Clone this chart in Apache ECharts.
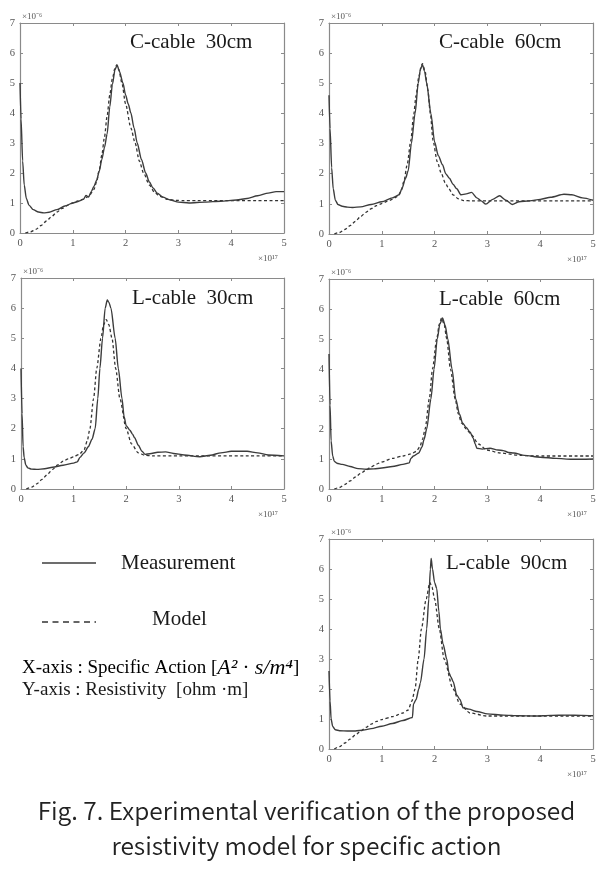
<!DOCTYPE html>
<html>
<head>
<meta charset="utf-8">
<script src="https://cdn.jsdelivr.net/npm/echarts@6/dist/echarts.min.js"></script>
<style>
html,body{margin:0;padding:0;background:#fff;}
#chart{width:613px;height:869px;}
</style>
</head>
<body>
<div id="chart"></div>
<script>
// ---- Data (x in units of 1e17 A^2·s/m^4, y in units of 1e-6 ohm·m) ----
var panelTitles = ['C-cable  30cm', 'C-cable  60cm', 'L-cable  30cm', 'L-cable  60cm', 'L-cable  90cm'];
var xTickValues = [0, 1, 2, 3, 4, 5];
var yTickValues = [0, 1, 2, 3, 4, 5, 6, 7];
var legendNames = ['Measurement', 'Model'];

var c30Meas = [[0,5.0],[0.02,3.8],[0.05,2.4],[0.08,1.6],[0.12,1.15],[0.17,0.93],[0.25,0.78],[0.35,0.7],[0.45,0.67],[0.55,0.69],[0.7,0.78],[0.85,0.9],[1.0,1.0],[1.1,1.05],[1.2,1.12],[1.25,1.25],[1.3,1.2],[1.35,1.38],[1.4,1.55],[1.45,1.75],[1.5,2.05],[1.55,2.45],[1.6,2.85],[1.65,3.3],[1.7,4.2],[1.75,4.95],[1.8,5.45],[1.84,5.6],[1.88,5.4],[1.95,5.0],[2.0,4.6],[2.05,4.3],[2.1,4.0],[2.16,3.5],[2.22,3.0],[2.3,2.45],[2.38,2.0],[2.45,1.7],[2.52,1.5],[2.6,1.33],[2.7,1.2],[2.85,1.1],[3.0,1.03],[3.2,1.0],[3.5,1.03],[3.8,1.06],[4.1,1.1],[4.3,1.15],[4.5,1.24],[4.7,1.33],[4.85,1.38],[5.0,1.38]];
var c30Model = [[0.1,0],[0.2,0.04],[0.3,0.12],[0.4,0.25],[0.5,0.4],[0.6,0.55],[0.7,0.7],[0.8,0.82],[0.9,0.92],[1.0,1.0],[1.1,1.07],[1.2,1.13],[1.3,1.22],[1.4,1.45],[1.45,1.7],[1.5,2.1],[1.55,2.6],[1.6,3.2],[1.65,3.9],[1.7,4.6],[1.75,5.15],[1.8,5.5],[1.83,5.6],[1.87,5.45],[1.93,5.0],[2.0,4.3],[2.1,3.5],[2.18,3.0],[2.26,2.4],[2.34,2.0],[2.45,1.6],[2.55,1.35],[2.65,1.22],[2.8,1.12],[2.95,1.09],[3.1,1.08],[5.0,1.08]];

var c60Meas = [[0,4.6],[0.02,3.5],[0.05,2.2],[0.08,1.5],[0.12,1.12],[0.17,0.98],[0.25,0.92],[0.35,0.89],[0.45,0.88],[0.6,0.9],[0.8,0.98],[1.0,1.07],[1.2,1.2],[1.33,1.3],[1.38,1.5],[1.45,1.85],[1.5,2.1],[1.56,3.0],[1.63,4.0],[1.69,5.0],[1.73,5.45],[1.77,5.62],[1.81,5.4],[1.85,5.0],[1.93,4.0],[2.0,3.05],[2.07,2.6],[2.15,2.3],[2.21,2.0],[2.28,1.85],[2.35,1.65],[2.42,1.5],[2.5,1.3],[2.6,1.33],[2.7,1.38],[2.8,1.2],[2.88,1.1],[2.97,0.99],[3.1,1.15],[3.23,1.27],[3.35,1.12],[3.47,0.98],[3.6,1.07],[3.8,1.1],[4.0,1.15],[4.2,1.22],[4.45,1.32],[4.6,1.3],[4.8,1.2],[5.0,1.12]];
var c60Model = [[0.1,0],[0.2,0.05],[0.3,0.15],[0.4,0.28],[0.5,0.42],[0.6,0.58],[0.7,0.72],[0.8,0.84],[0.9,0.94],[1.0,1.01],[1.1,1.08],[1.2,1.15],[1.3,1.25],[1.36,1.4],[1.42,1.75],[1.48,2.3],[1.55,3.1],[1.6,3.9],[1.65,4.6],[1.7,5.2],[1.75,5.6],[1.77,5.65],[1.82,5.4],[1.87,4.8],[1.92,4.0],[1.97,3.1],[2.05,2.4],[2.13,2.0],[2.2,1.7],[2.27,1.5],[2.35,1.3],[2.45,1.17],[2.55,1.11],[2.7,1.1],[5.0,1.1]];

var l30Meas = [[0,4.0],[0.02,2.5],[0.04,1.4],[0.06,1.05],[0.09,0.8],[0.13,0.7],[0.2,0.66],[0.3,0.65],[0.45,0.67],[0.6,0.72],[0.8,0.79],[1.0,0.86],[1.07,0.9],[1.12,1.05],[1.2,1.2],[1.28,1.4],[1.35,1.65],[1.41,2.0],[1.46,3.0],[1.5,4.0],[1.55,5.0],[1.6,6.0],[1.64,6.27],[1.67,6.2],[1.71,6.0],[1.79,5.0],[1.85,4.0],[1.92,3.0],[1.96,2.4],[2.0,2.1],[2.07,1.95],[2.12,1.82],[2.16,1.7],[2.23,1.45],[2.3,1.25],[2.36,1.15],[2.45,1.17],[2.6,1.22],[2.75,1.23],[2.9,1.18],[3.1,1.13],[3.4,1.07],[3.6,1.12],[3.8,1.2],[4.0,1.25],[4.3,1.25],[4.5,1.2],[4.7,1.13],[5.0,1.1]];
var l30Model = [[0.1,0],[0.2,0.06],[0.3,0.17],[0.4,0.32],[0.5,0.48],[0.6,0.65],[0.7,0.8],[0.8,0.92],[0.9,1.0],[1.0,1.07],[1.1,1.14],[1.2,1.3],[1.26,1.6],[1.31,2.0],[1.38,3.0],[1.44,4.0],[1.52,5.0],[1.57,5.45],[1.62,5.62],[1.67,5.45],[1.73,5.0],[1.8,4.0],[1.88,3.0],[2.0,2.0],[2.1,1.5],[2.23,1.2],[2.35,1.12],[2.5,1.1],[5.0,1.1]];

var l60Meas = [[0,4.5],[0.02,2.8],[0.04,1.6],[0.07,1.1],[0.1,0.92],[0.15,0.86],[0.25,0.82],[0.4,0.75],[0.55,0.68],[0.7,0.66],[0.85,0.67],[1.0,0.7],[1.2,0.75],[1.4,0.82],[1.52,0.87],[1.55,1.02],[1.6,1.1],[1.7,1.2],[1.76,1.4],[1.8,1.65],[1.85,2.0],[1.93,3.0],[1.99,4.0],[2.05,5.0],[2.1,5.5],[2.15,5.7],[2.2,5.45],[2.25,5.0],[2.33,4.0],[2.4,3.0],[2.47,2.5],[2.53,2.2],[2.6,2.05],[2.67,1.9],[2.73,1.7],[2.77,1.5],[2.8,1.36],[2.9,1.33],[3.05,1.36],[3.2,1.3],[3.3,1.28],[3.4,1.22],[3.5,1.2],[3.7,1.12],[4.0,1.06],[4.3,1.02],[4.6,0.99],[5.0,1.0]];
var l60Model = [[0.1,0],[0.2,0.05],[0.3,0.15],[0.4,0.27],[0.5,0.4],[0.6,0.52],[0.7,0.63],[0.8,0.74],[0.9,0.83],[1.0,0.9],[1.2,1.02],[1.4,1.1],[1.55,1.17],[1.65,1.25],[1.72,1.4],[1.77,1.65],[1.82,2.0],[1.9,3.0],[1.96,4.0],[2.04,5.0],[2.09,5.5],[2.13,5.7],[2.18,5.5],[2.23,5.0],[2.3,4.0],[2.39,3.0],[2.45,2.5],[2.51,2.2],[2.6,2.0],[2.7,1.8],[2.83,1.5],[2.99,1.3],[3.24,1.2],[3.62,1.12],[3.9,1.1],[5.0,1.1]];

var l90Meas = [[0,2.6],[0.02,1.6],[0.04,1.0],[0.07,0.75],[0.12,0.64],[0.2,0.61],[0.35,0.6],[0.5,0.6],[0.65,0.63],[0.8,0.68],[1.0,0.76],[1.2,0.85],[1.4,0.95],[1.58,1.05],[1.6,1.5],[1.65,1.65],[1.7,2.0],[1.73,2.2],[1.8,3.0],[1.85,4.0],[1.89,5.0],[1.92,6.0],[1.935,6.35],[1.96,6.0],[2.0,5.55],[2.04,5.35],[2.08,4.6],[2.11,4.0],[2.16,3.5],[2.23,3.0],[2.27,2.55],[2.31,2.4],[2.35,2.25],[2.42,1.8],[2.48,1.65],[2.54,1.37],[2.65,1.33],[2.8,1.25],[3.0,1.17],[3.3,1.13],[3.6,1.11],[3.9,1.1],[4.2,1.12],[4.5,1.13],[4.8,1.12],[5.0,1.11]];
var l90Model = [[0.1,0],[0.2,0.08],[0.3,0.2],[0.4,0.33],[0.5,0.47],[0.6,0.6],[0.7,0.72],[0.8,0.83],[0.9,0.92],[1.0,0.98],[1.2,1.08],[1.4,1.2],[1.5,1.3],[1.57,1.6],[1.63,2.0],[1.69,3.0],[1.75,4.0],[1.84,5.0],[1.91,5.55],[1.95,5.4],[2.0,5.0],[2.09,4.0],[2.18,3.0],[2.35,2.0],[2.48,1.5],[2.67,1.2],[2.99,1.1],[5.0,1.1]];

var measSets = [c30Meas, c60Meas, l30Meas, l60Meas, l90Meas];
var modelSets = [c30Model, c60Model, l30Model, l60Model, l90Model];

// ---- Layout ----
var grids = [
  {left: 20, top: 23, width: 264, height: 210},
  {left: 329, top: 23, width: 264, height: 211},
  {left: 21, top: 278, width: 263, height: 211},
  {left: 329, top: 279, width: 264, height: 210},
  {left: 329, top: 539, width: 264, height: 210}
];
var titlePos = [[130, 44], [439, 44], [132, 300], [439, 301], [446, 565]];

var axisColor = '#8a8a8a';
var labelColor = '#555';
var serif = '"Liberation Serif", "Times New Roman", serif';
var captionFont = '350 24.5px "Noto Sans CJK KR", "Liberation Sans", sans-serif';

var option = {
  backgroundColor: '#fff',
  animation: false,
  grid: [], xAxis: [], yAxis: [], series: [], graphic: []
};

grids.forEach(function (g, i) {
  option.grid.push({left: g.left, top: g.top, width: g.width, height: g.height, containLabel: false});
  var common = {
    type: 'value', gridIndex: i,
    axisLine: {show: true, onZero: false, lineStyle: {color: axisColor, width: 1.2}},
    axisTick: {show: true, inside: true, length: 3, lineStyle: {color: axisColor, width: 1}},
    splitLine: {show: false}
  };
  option.xAxis.push(Object.assign({}, common, {
    position: 'bottom', min: xTickValues[0], max: xTickValues[xTickValues.length - 1], interval: 1,
    axisLabel: {show: true, margin: 5, fontSize: 10.5, color: labelColor, fontFamily: serif}
  }));
  option.xAxis.push(Object.assign({}, common, {
    position: 'top', min: xTickValues[0], max: xTickValues[xTickValues.length - 1], interval: 1,
    axisLabel: {show: false}
  }));
  option.yAxis.push(Object.assign({}, common, {
    position: 'left', min: yTickValues[0], max: yTickValues[yTickValues.length - 1], interval: 1,
    axisLabel: {show: true, margin: 5, fontSize: 10.5, color: labelColor, fontFamily: serif}
  }));
  option.yAxis.push(Object.assign({}, common, {
    position: 'right', min: yTickValues[0], max: yTickValues[yTickValues.length - 1], interval: 1,
    axisLabel: {show: false}
  }));

  option.series.push({
    name: legendNames[0], type: 'line', xAxisIndex: 2 * i, yAxisIndex: 2 * i,
    data: measSets[i], symbol: 'none', smooth: 0.25, smoothMonotone: 'x',
    lineStyle: {color: '#3c3c3c', width: 1.4, type: 'solid'}, z: 3
  });
  option.series.push({
    name: legendNames[1], type: 'line', xAxisIndex: 2 * i, yAxisIndex: 2 * i,
    data: modelSets[i], symbol: 'none', smooth: 0.25, smoothMonotone: 'x',
    lineStyle: {color: '#333', width: 1.3, type: [3, 2.5]}, z: 2
  });

  option.graphic.push({
    type: 'text', left: titlePos[i][0], top: titlePos[i][1] - 12,
    style: {text: panelTitles[i], font: '21px ' + serif, fill: '#1a1a1a'}
  });
  option.graphic.push({
    type: 'text', left: g.left + 2, top: g.top - 11,
    style: {text: '×10⁻⁶', font: '9px ' + serif, fill: '#555'}
  });
  option.graphic.push({
    type: 'text', left: g.left + g.width - 26, top: g.top + g.height + 21,
    style: {text: '×10¹⁷', font: '9px ' + serif, fill: '#555'}
  });
});

option.graphic.push(
  {type: 'line', shape: {x1: 42, y1: 563, x2: 96, y2: 563}, style: {stroke: '#3c3c3c', lineWidth: 1.6}},
  {type: 'text', left: 121, top: 553, style: {text: legendNames[0], font: '21px ' + serif, fill: '#1a1a1a'}},
  {type: 'line', shape: {x1: 42, y1: 622, x2: 96, y2: 622}, style: {stroke: '#333', lineWidth: 1.4, lineDash: [6, 4.5]}},
  {type: 'text', left: 152, top: 609, style: {text: legendNames[1], font: '21px ' + serif, fill: '#1a1a1a'}},
  {type: 'text', left: 22, top: 657, style: {
    text: '{n|X-axis : Specific Action [}{i|A²}{s| · }{i|s/m⁴}{n|]}',
    rich: {
      n: {fontSize: 19, fontFamily: serif, color: '#1a1a1a'},
      s: {fontSize: 21, fontFamily: serif, color: '#1a1a1a'},
      i: {fontSize: 22, fontFamily: serif, fontStyle: 'italic', color: '#1a1a1a'}
    }
  }},
  {type: 'text', left: 22, top: 681, style: {text: 'Y-axis : Resistivity  [ohm ·m]', font: '19px ' + serif, fill: '#1a1a1a'}},
  {type: 'text', left: 'center', top: 798, style: {text: 'Fig. 7. Experimental verification of the proposed', font: captionFont, fill: '#222'}},
  {type: 'text', left: 'center', top: 833, style: {text: 'resistivity model for specific action', font: captionFont, fill: '#222'}}
);

var chart = echarts.init(document.getElementById('chart'), null, {renderer: 'canvas'});
chart.setOption(option);
</script>
</body>
</html>
